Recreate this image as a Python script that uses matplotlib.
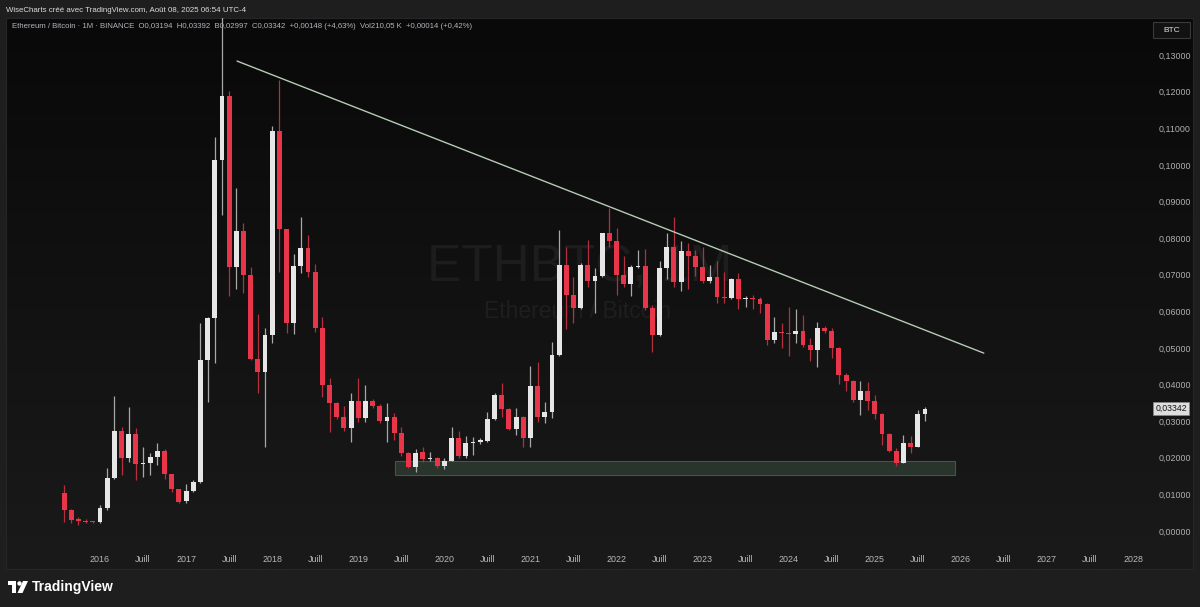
import matplotlib
matplotlib.use('Agg')
import matplotlib.pyplot as plt
import numpy as np
import pandas as pd
from matplotlib.colors import LinearSegmentedColormap
from matplotlib.patches import Rectangle, Circle, Polygon
from matplotlib.transforms import blended_transform_factory

# --- data: ETH/BTC monthly candles, Aug 2015 -> Aug 2025 ---
months = pd.period_range('2015-08', '2025-08', freq='M')

opens = [0.0103, 0.0057, 0.0029, 0.0028, 0.0025, 0.0024, 0.0063, 0.0144, 0.0274, 0.0199,
         0.0265, 0.0183, 0.0185, 0.0203, 0.0219, 0.0155, 0.0114, 0.0081, 0.0110, 0.0135,
         0.0467, 0.0583, 0.1014, 0.1189, 0.0722, 0.0820, 0.0699, 0.0469, 0.0435, 0.0536,
         0.1094, 0.0825, 0.0567, 0.0725, 0.0772, 0.0709, 0.0554, 0.0399, 0.0351, 0.0311,
         0.0281, 0.0355, 0.0308, 0.0355, 0.0342, 0.0301, 0.0312, 0.0269, 0.0214, 0.0176,
         0.0216, 0.0196, 0.0200, 0.0178, 0.0192, 0.0253, 0.0205, 0.0240, 0.0244, 0.0246,
         0.0305, 0.0372, 0.0333, 0.0278, 0.0312, 0.0253, 0.0396, 0.0311, 0.0326, 0.0481,
         0.0727, 0.0645, 0.0608, 0.0727, 0.0684, 0.0697, 0.0813, 0.0793, 0.0699, 0.0675,
         0.0720, 0.0724, 0.0608, 0.0536, 0.0719, 0.0775, 0.0681, 0.0766, 0.0751, 0.0720,
         0.0684, 0.0693, 0.0640, 0.0637, 0.0689, 0.0633, 0.0635, 0.0633, 0.0619, 0.0522,
         0.0543, 0.0540, 0.0537, 0.0547, 0.0508, 0.0495, 0.0556, 0.0547, 0.0499, 0.0426,
         0.0411, 0.0358, 0.0383, 0.0356, 0.0320, 0.0265, 0.0219, 0.0187, 0.0240, 0.0230,
         0.03194]
highs = [0.0126, 0.0060, 0.0039, 0.0033, 0.0027, 0.0071, 0.0173, 0.0369, 0.0285, 0.0340,
         0.0281, 0.0229, 0.0212, 0.0240, 0.0223, 0.0157, 0.0116, 0.0128, 0.0139, 0.0569,
         0.0586, 0.1077, 0.1465, 0.1202, 0.0936, 0.0842, 0.0722, 0.0592, 0.0554, 0.1107,
         0.1232, 0.0826, 0.0756, 0.0859, 0.0809, 0.0729, 0.0586, 0.0417, 0.0353, 0.0342,
         0.0376, 0.0419, 0.0399, 0.0360, 0.0348, 0.0349, 0.0322, 0.0285, 0.0216, 0.0223,
         0.0229, 0.0216, 0.0203, 0.0199, 0.0285, 0.0274, 0.0260, 0.0256, 0.0254, 0.0326,
         0.0376, 0.0405, 0.0337, 0.0337, 0.0314, 0.0451, 0.0463, 0.0353, 0.0517, 0.0822,
         0.0775, 0.0693, 0.0733, 0.0795, 0.0718, 0.0815, 0.0882, 0.0829, 0.0751, 0.0727,
         0.0768, 0.0770, 0.0617, 0.0738, 0.0815, 0.0857, 0.0793, 0.0788, 0.0768, 0.0777,
         0.0727, 0.0738, 0.0709, 0.0692, 0.0704, 0.0642, 0.0645, 0.0640, 0.0624, 0.0584,
         0.0567, 0.0611, 0.0606, 0.0590, 0.0526, 0.0572, 0.0560, 0.0554, 0.0502, 0.0433,
         0.0413, 0.0411, 0.0406, 0.0372, 0.0323, 0.0269, 0.0226, 0.0262, 0.0259, 0.0331,
         0.03392]
lows = [0.0025, 0.0022, 0.0016, 0.0022, 0.0022, 0.0022, 0.0057, 0.0141, 0.0153, 0.0189,
        0.0139, 0.0147, 0.0153, 0.0180, 0.0141, 0.0107, 0.0076, 0.0077, 0.0107, 0.0132,
        0.0353, 0.0460, 0.0863, 0.0642, 0.0660, 0.0649, 0.0467, 0.0376, 0.0230, 0.0513,
        0.0709, 0.0540, 0.0538, 0.0704, 0.0695, 0.0545, 0.0365, 0.0271, 0.0305, 0.0274,
        0.0244, 0.0299, 0.0299, 0.0337, 0.0294, 0.0244, 0.0250, 0.0205, 0.0171, 0.0162,
        0.0189, 0.0192, 0.0171, 0.0169, 0.0190, 0.0199, 0.0199, 0.0208, 0.0238, 0.0243,
        0.0303, 0.0311, 0.0276, 0.0262, 0.0229, 0.0230, 0.0299, 0.0294, 0.0308, 0.0477,
        0.0551, 0.0567, 0.0606, 0.0668, 0.0595, 0.0693, 0.0777, 0.0645, 0.0666, 0.0642,
        0.0718, 0.0604, 0.0490, 0.0533, 0.0688, 0.0668, 0.0657, 0.0660, 0.0697, 0.0677,
        0.0677, 0.0624, 0.0624, 0.0634, 0.0606, 0.0613, 0.0606, 0.0595, 0.0508, 0.0513,
        0.0499, 0.0478, 0.0513, 0.0502, 0.0465, 0.0447, 0.0540, 0.0472, 0.0403, 0.0383,
        0.0353, 0.0317, 0.0331, 0.0305, 0.0235, 0.0217, 0.0178, 0.0186, 0.0214, 0.0229,
        0.02997]
closes = [0.0057, 0.0029, 0.0028, 0.0025, 0.0024, 0.0063, 0.0144, 0.0274, 0.0199, 0.0265,
          0.0183, 0.0185, 0.0203, 0.0219, 0.0155, 0.0114, 0.0080, 0.0110, 0.0135, 0.0467,
          0.0583, 0.1014, 0.1189, 0.0722, 0.0820, 0.0699, 0.0469, 0.0435, 0.0536, 0.1094,
          0.0825, 0.0567, 0.0725, 0.0772, 0.0709, 0.0554, 0.0399, 0.0351, 0.0311, 0.0281,
          0.0355, 0.0308, 0.0355, 0.0342, 0.0301, 0.0312, 0.0269, 0.0214, 0.0176, 0.0214,
          0.0196, 0.0200, 0.0178, 0.0192, 0.0253, 0.0205, 0.0240, 0.0244, 0.0246, 0.0305,
          0.0372, 0.0333, 0.0278, 0.0312, 0.0253, 0.0396, 0.0311, 0.0326, 0.0481, 0.0727,
          0.0645, 0.0608, 0.0727, 0.0684, 0.0697, 0.0813, 0.0793, 0.0699, 0.0675, 0.0720,
          0.0724, 0.0608, 0.0536, 0.0719, 0.0775, 0.0681, 0.0766, 0.0751, 0.0720, 0.0684,
          0.0693, 0.0638, 0.0637, 0.0689, 0.0633, 0.0635, 0.0633, 0.0619, 0.0522, 0.0543,
          0.0540, 0.0537, 0.0547, 0.0508, 0.0495, 0.0556, 0.0547, 0.0499, 0.0426, 0.0411,
          0.0358, 0.0383, 0.0356, 0.0320, 0.0265, 0.0219, 0.0187, 0.0240, 0.0230, 0.03194,
          0.03342]

price_ticks = [0.00, 0.01, 0.02, 0.03, 0.04, 0.05, 0.06, 0.07, 0.08, 0.09, 0.10, 0.11, 0.12, 0.13]
axis_years = list(range(2016, 2029))
half_label = 'Juill'
last_price = 0.03342

# drawn objects
trend_dates = ['2017-08-04', '2026-04-07']
trend_prices = [0.1284, 0.0486]
zone_dates = ['2019-06-03', '2025-12-07']
zone_prices = [0.0153, 0.0191]

title = 'WiseCharts créé avec TradingView.com, Août 08, 2025 06:54 UTC-4'
legend = ('Ethereum / Bitcoin · 1M · BINANCE  O0,03194  H0,03392  B0,02997  C0,03342  '
          '+0,00148 (+4,63%)  Vol210,05 K  +0,00014 (+0,42%)')


def month_pos(d):
    t = pd.Timestamp(d)
    return (t.year - 2016) * 12 + t.month - 1 + (t.day - 1) / 30.0


def frac(v):
    return f'{v:.5f}'.replace('.', ',')


W, H = 1200, 607
fig = plt.figure(figsize=(W / 100, H / 100), dpi=100, facecolor='#1e1e1e')
plt.rcParams['font.family'] = ['Liberation Sans', 'DejaVu Sans']


def rect(x0, y0, x1, y1):
    return [x0 / W, 1 - y1 / H, (x1 - x0) / W, (y1 - y0) / H]


# background / decoration layer in pixel coordinates
bg = fig.add_axes([0, 0, 1, 1], zorder=0)
bg.set_xlim(0, W)
bg.set_ylim(H, 0)
bg.axis('off')
grad = LinearSegmentedColormap.from_list('g', ['#090909', '#1a1a1a'])
bg.imshow(np.linspace(0, 1, 256).reshape(-1, 1), cmap=grad, aspect='auto',
          extent=(6, 1193, 569, 18), zorder=0)
bg.add_patch(Rectangle((6, 18), 1187, 551, fill=False, ec='#262626', lw=0.8, zorder=1))

bg.text(580, 268, 'ETHBTC, 1M', color='#1d1d1d', fontsize=37, ha='center', va='center', zorder=1)
bg.text(578, 312, 'Ethereum / Bitcoin', color='#1e1e1e', fontsize=16.5, ha='center', va='center', zorder=1)

bg.text(6, 10, title, color='#dcdcdc', fontsize=5.7, ha='left', va='center')
bg.text(12, 27, legend, color='#b2b5be', fontsize=5.6, ha='left', va='center')

# BTC unit box
bg.add_patch(Rectangle((1153, 22), 37, 16, fc='#121212', ec='#3a3a3a', lw=0.8))
bg.text(1171.5, 30, 'BTC', color='#e0e0e0', fontsize=6, ha='center', va='center')

# TradingView logo
bg.add_patch(Rectangle((8, 581), 8, 4, fc='white', ec='none'))
bg.add_patch(Rectangle((12, 581), 4, 12, fc='white', ec='none'))
bg.add_patch(Circle((19.5, 583.5), 2.2, fc='white', ec='none'))
bg.add_patch(Polygon([(23, 581), (28, 581), (22.5, 593), (17.5, 593)], fc='white', ec='none'))
bg.text(32, 587.5, 'TradingView', color='white', fontsize=10, fontweight='bold', ha='left', va='center')

# main chart
ax = fig.add_axes(rect(6, 18, 1145, 548), zorder=1)
ax.patch.set_alpha(0)
for s in ax.spines.values():
    s.set_visible(False)

x = np.array([(p.year - 2016) * 12 + p.month - 1 for p in months], dtype=float)
o = np.array(opens)
c = np.array(closes)
hi = np.array(highs)
lo = np.array(lows)
up = c >= o

body_col = np.where(up, '#e6e6e6', '#e8354a')
wick_col = np.where(up, '#a8a8a8', '#b52f3e')

ax.vlines(x, lo, hi, colors=wick_col, lw=0.9, zorder=2)
heights = np.maximum(np.abs(c - o), 0.00035)
ax.bar(x, heights, bottom=np.minimum(o, c), width=0.68, color=body_col, lw=0, zorder=3)

# support zone
zx0, zx1 = month_pos(zone_dates[0]), month_pos(zone_dates[1])
ax.add_patch(Rectangle((zx0, zone_prices[0]), zx1 - zx0, zone_prices[1] - zone_prices[0],
                       fc='#2b362f', ec='#4b574e', lw=0.8, alpha=0.95, zorder=1))

# descending trend line
ax.plot([month_pos(d) for d in trend_dates], trend_prices, color='#b4ccb4', lw=1.0,
        solid_capstyle='round', zorder=4)

ax.set_xlim((6 - 100) / 7.174, (1145 - 100) / 7.174)
ax.set_ylim((531 - 548) / 3660, (531 - 18) / 3660)

# axes labels
ax.yaxis.tick_right()
ax.set_yticks(price_ticks)
ax.set_yticklabels([frac(v) for v in price_ticks])
ax.tick_params(axis='y', length=0, pad=9.5, labelsize=6.4, labelcolor='#b0b0b0')

xt, xl = [], []
for yr in axis_years:
    xt.append((yr - 2016) * 12)
    xl.append(str(yr))
    if yr < axis_years[-1]:
        xt.append((yr - 2016) * 12 + 6)
        xl.append(half_label)
ax.set_xticks(xt)
ax.set_xticklabels(xl)
ax.tick_params(axis='x', length=0, pad=5, labelsize=6.4, labelcolor='#b8b8b8')

# last price tag
tr = blended_transform_factory(ax.transAxes, ax.transData)
ax.text((1171.5 - 6) / (1145 - 6), last_price, frac(last_price), transform=tr, ha='center', va='center',
        fontsize=6.3, color='#151515', zorder=6, clip_on=False,
        bbox=dict(boxstyle='square,pad=0.25', fc='#dedede', ec='#8a8a8a', lw=0.5))

fig.savefig('out.png', dpi=100, facecolor=fig.get_facecolor())
